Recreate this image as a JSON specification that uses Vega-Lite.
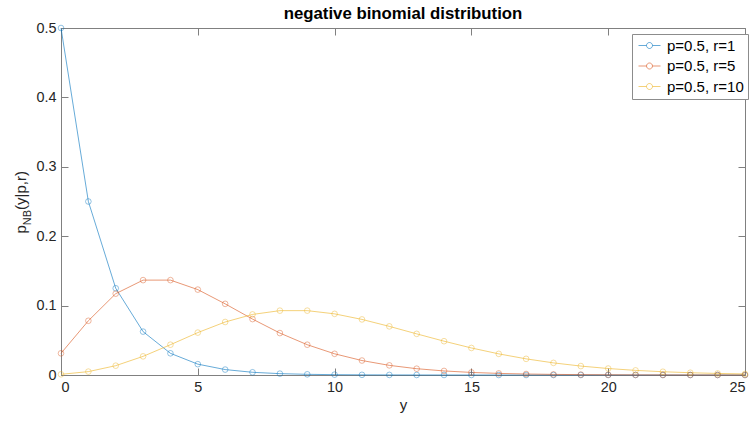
{
  "$schema": "https://vega.github.io/schema/vega-lite/v6.json",
  "autosize": "none",
  "width": 684,
  "height": 347,
  "padding": {"left": 61, "top": 28, "right": 11, "bottom": 48},
  "background": "white",
  "title": {"text": "negative binomial distribution", "fontSize": 16.8, "fontWeight": "bold", "font": "Liberation Sans", "color": "#000000", "anchor": "middle", "baseline": "alphabetic", "offset": 8, "dy": 24},
  "config": {
    "view": {"stroke": null},
    "font": "Liberation Sans",
    "axis": {"grid": false, "domainColor": "#808080", "domainWidth": 1, "tickColor": "#808080", "tickWidth": 1, "labelColor": "#262626", "labelFontSize": 14.4, "labelFont": "Liberation Sans", "titleFont": "Liberation Sans", "titleColor": "#262626", "titleFontWeight": "normal"}
  },
  "data": {"values": [
    {"y": 0, "p": 0.5, "s": "p=0.5, r=1"},
    {"y": 1, "p": 0.25, "s": "p=0.5, r=1"},
    {"y": 2, "p": 0.125, "s": "p=0.5, r=1"},
    {"y": 3, "p": 0.0625, "s": "p=0.5, r=1"},
    {"y": 4, "p": 0.03125, "s": "p=0.5, r=1"},
    {"y": 5, "p": 0.015625, "s": "p=0.5, r=1"},
    {"y": 6, "p": 0.0078125, "s": "p=0.5, r=1"},
    {"y": 7, "p": 0.00390625, "s": "p=0.5, r=1"},
    {"y": 8, "p": 0.001953, "s": "p=0.5, r=1"},
    {"y": 9, "p": 0.000977, "s": "p=0.5, r=1"},
    {"y": 10, "p": 0.000488, "s": "p=0.5, r=1"},
    {"y": 11, "p": 0.000244, "s": "p=0.5, r=1"},
    {"y": 12, "p": 0.000122, "s": "p=0.5, r=1"},
    {"y": 13, "p": 0.000061, "s": "p=0.5, r=1"},
    {"y": 14, "p": 0.0000305, "s": "p=0.5, r=1"},
    {"y": 15, "p": 0.0000153, "s": "p=0.5, r=1"},
    {"y": 16, "p": 0.0000076, "s": "p=0.5, r=1"},
    {"y": 17, "p": 0.0000038, "s": "p=0.5, r=1"},
    {"y": 18, "p": 0.0000019, "s": "p=0.5, r=1"},
    {"y": 19, "p": 0.00000095, "s": "p=0.5, r=1"},
    {"y": 20, "p": 0.00000048, "s": "p=0.5, r=1"},
    {"y": 21, "p": 0.00000024, "s": "p=0.5, r=1"},
    {"y": 22, "p": 0.00000012, "s": "p=0.5, r=1"},
    {"y": 23, "p": 0.00000006, "s": "p=0.5, r=1"},
    {"y": 24, "p": 0.00000003, "s": "p=0.5, r=1"},
    {"y": 25, "p": 0.000000015, "s": "p=0.5, r=1"},
    {"y": 0, "p": 0.03125, "s": "p=0.5, r=5"},
    {"y": 1, "p": 0.078125, "s": "p=0.5, r=5"},
    {"y": 2, "p": 0.1171875, "s": "p=0.5, r=5"},
    {"y": 3, "p": 0.13671875, "s": "p=0.5, r=5"},
    {"y": 4, "p": 0.13671875, "s": "p=0.5, r=5"},
    {"y": 5, "p": 0.123047, "s": "p=0.5, r=5"},
    {"y": 6, "p": 0.102539, "s": "p=0.5, r=5"},
    {"y": 7, "p": 0.080566, "s": "p=0.5, r=5"},
    {"y": 8, "p": 0.060425, "s": "p=0.5, r=5"},
    {"y": 9, "p": 0.04364, "s": "p=0.5, r=5"},
    {"y": 10, "p": 0.030548, "s": "p=0.5, r=5"},
    {"y": 11, "p": 0.020828, "s": "p=0.5, r=5"},
    {"y": 12, "p": 0.013885, "s": "p=0.5, r=5"},
    {"y": 13, "p": 0.009079, "s": "p=0.5, r=5"},
    {"y": 14, "p": 0.005836, "s": "p=0.5, r=5"},
    {"y": 15, "p": 0.003696, "s": "p=0.5, r=5"},
    {"y": 16, "p": 0.00231, "s": "p=0.5, r=5"},
    {"y": 17, "p": 0.001427, "s": "p=0.5, r=5"},
    {"y": 18, "p": 0.000872, "s": "p=0.5, r=5"},
    {"y": 19, "p": 0.000528, "s": "p=0.5, r=5"},
    {"y": 20, "p": 0.000317, "s": "p=0.5, r=5"},
    {"y": 21, "p": 0.000188, "s": "p=0.5, r=5"},
    {"y": 22, "p": 0.000111, "s": "p=0.5, r=5"},
    {"y": 23, "p": 0.0000654, "s": "p=0.5, r=5"},
    {"y": 24, "p": 0.0000381, "s": "p=0.5, r=5"},
    {"y": 25, "p": 0.0000221, "s": "p=0.5, r=5"},
    {"y": 0, "p": 0.000977, "s": "p=0.5, r=10"},
    {"y": 1, "p": 0.004883, "s": "p=0.5, r=10"},
    {"y": 2, "p": 0.013428, "s": "p=0.5, r=10"},
    {"y": 3, "p": 0.026855, "s": "p=0.5, r=10"},
    {"y": 4, "p": 0.04364, "s": "p=0.5, r=10"},
    {"y": 5, "p": 0.061096, "s": "p=0.5, r=10"},
    {"y": 6, "p": 0.07637, "s": "p=0.5, r=10"},
    {"y": 7, "p": 0.08728, "s": "p=0.5, r=10"},
    {"y": 8, "p": 0.092735, "s": "p=0.5, r=10"},
    {"y": 9, "p": 0.092735, "s": "p=0.5, r=10"},
    {"y": 10, "p": 0.088099, "s": "p=0.5, r=10"},
    {"y": 11, "p": 0.08009, "s": "p=0.5, r=10"},
    {"y": 12, "p": 0.070079, "s": "p=0.5, r=10"},
    {"y": 13, "p": 0.059297, "s": "p=0.5, r=10"},
    {"y": 14, "p": 0.048708, "s": "p=0.5, r=10"},
    {"y": 15, "p": 0.038966, "s": "p=0.5, r=10"},
    {"y": 16, "p": 0.030442, "s": "p=0.5, r=10"},
    {"y": 17, "p": 0.02328, "s": "p=0.5, r=10"},
    {"y": 18, "p": 0.01746, "s": "p=0.5, r=10"},
    {"y": 19, "p": 0.012865, "s": "p=0.5, r=10"},
    {"y": 20, "p": 0.009327, "s": "p=0.5, r=10"},
    {"y": 21, "p": 0.006662, "s": "p=0.5, r=10"},
    {"y": 22, "p": 0.004694, "s": "p=0.5, r=10"},
    {"y": 23, "p": 0.003265, "s": "p=0.5, r=10"},
    {"y": 24, "p": 0.002245, "s": "p=0.5, r=10"},
    {"y": 25, "p": 0.001527, "s": "p=0.5, r=10"}
  ]},
  "encoding": {
    "x": {"field": "y", "type": "quantitative", "scale": {"domain": [0, 25], "nice": false, "zero": false}},
    "y": {"field": "p", "type": "quantitative", "scale": {"domain": [0, 0.5], "nice": false}},
    "color": {"field": "s", "type": "nominal", "scale": {"domain": ["p=0.5, r=1", "p=0.5, r=5", "p=0.5, r=10"], "range": ["#0072BD", "#D95319", "#EDB120"]},
      "legend": {"title": null, "orient": "none", "legendX": 571, "legendY": 6, "direction": "vertical",
        "strokeColor": "#8c8c8c", "fillColor": "white", "padding": 4, "rowPadding": 4.5,
        "labelFontSize": 15, "labelFont": "Liberation Sans", "labelColor": "#000000",
        "symbolType": "M-2.2,0L-0.6,0M0.6,0L2.2,0M-0.6,0A0.6,0.6,0,1,0,0.6,0A0.6,0.6,0,1,0,-0.6,0",
        "symbolSize": 100, "symbolStrokeWidth": 0.6, "symbolOffset": 6, "labelOffset": 10,
        "symbolFillColor": "transparent",
        "encode": {"symbols": {"update": {"fill": {"value": "transparent"}}}}}}
  },
  "layer": [
    {
      "mark": {"type": "line", "strokeWidth": 0.6},
      "encoding": {
        "x": {"field": "y", "type": "quantitative", "axis": {"orient": "bottom", "values": [0, 5, 10, 15, 20, 25], "tickSize": -7, "labelPadding": 12, "title": "y", "titleFontSize": 15, "titlePadding": 4}},
        "y": {"field": "p", "type": "quantitative", "axis": {"orient": "left", "values": [0, 0.1, 0.2, 0.3, 0.4, 0.5], "format": ".1~f", "tickSize": -7, "labelPadding": 12, "title": "p", "titleFontSize": 15, "titleAngle": 270, "titleAlign": "left", "titleBaseline": "alphabetic", "titleX": -36, "titleY": 205}}
      }
    },
    {
      "mark": {"type": "point", "filled": false, "size": 32, "strokeWidth": 0.6},
      "encoding": {
        "x": {"field": "y", "type": "quantitative", "axis": {"orient": "top", "values": [0, 5, 10, 15, 20, 25], "tickSize": -7, "labels": false, "title": "NB", "titleFontSize": 11, "titleAngle": 270, "titleAlign": "left", "titleBaseline": "alphabetic", "titleX": -31, "titleY": 196.7}},
        "y": {"field": "p", "type": "quantitative", "axis": {"orient": "right", "values": [0, 0.1, 0.2, 0.3, 0.4, 0.5], "tickSize": -7, "labels": false, "title": "(y|p,r)", "titleFontSize": 15, "titleAngle": 270, "titleAlign": "left", "titleBaseline": "alphabetic", "titleX": -720, "titleY": 181.4}}
      }
    }
  ],
  "resolve": {"axis": {"x": "independent", "y": "independent"}}
}
